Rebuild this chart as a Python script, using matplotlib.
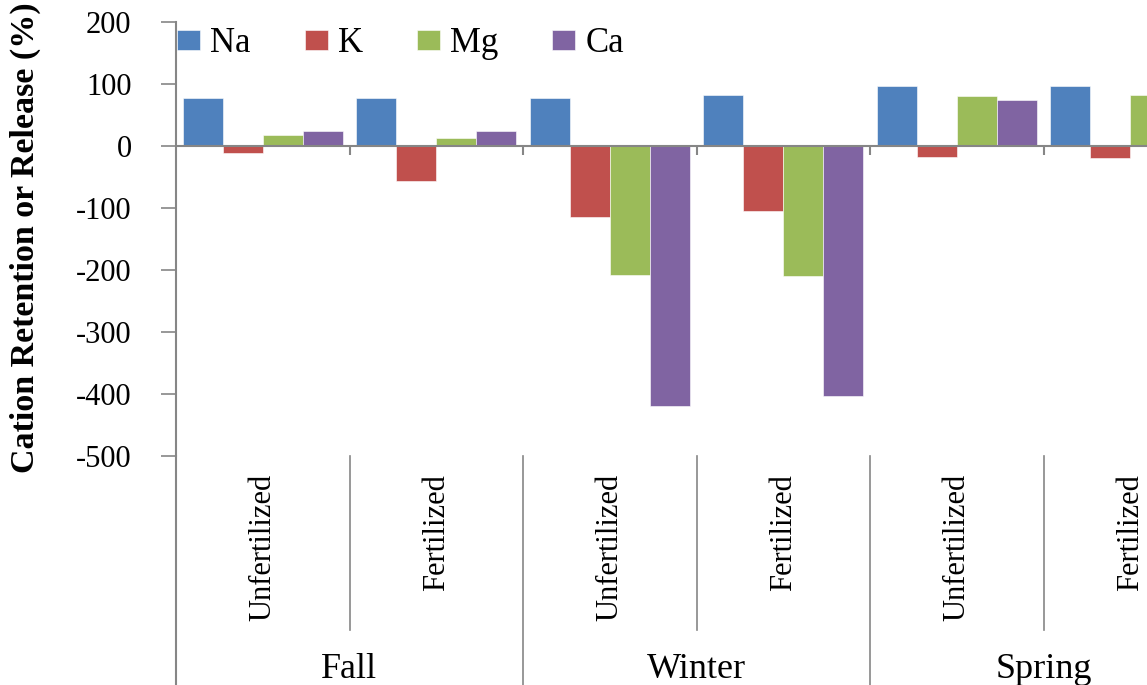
import matplotlib.pyplot as plt
import numpy as np

# donnees
saisons = ["Fall", "Winter", "Spring"]
traitements = ["Unfertilized", "Fertilized"]
cations = ["Na", "K", "Mg", "Ca"]
na = [77, 77, 77, 82, 96, 96]
k = [-12, -56, -115, -105, -17, -20]
mg = [17, 13, -208, -210, 81, 83]
ca = [25, 25, -420, -403, 75, 75]
couleurs = ["#4F81BD", "#C0504D", "#9BBB59", "#8064A2"]

plt.rcParams['font.family'] = ['Liberation Serif', 'DejaVu Serif']
plt.rcParams['axes.unicode_minus'] = False
gris = "#868686"

fig = plt.figure(figsize=(11.47, 6.85), dpi=100)
ax = fig.add_axes([176/1147, 1 - 456/685, 1 - 176/1147, 434/685])

series = [na, k, mg, ca]
x = np.arange(len(saisons) * len(traitements))
width = 0.231
for i in range(len(cations)):
    ax.bar(x + (i - 1.5) * width, series[i], width, color=couleurs[i],
           label=cations[i], edgecolor='white', linewidth=0.4)

ax.set_xlim(-0.5, -0.5 + 971/173.5)
ax.set_ylim(-500, 200)
ax.set_yticks(np.arange(-500, 201, 100))
ax.tick_params(axis='y', direction='out', length=11, width=1.2, color=gris,
               pad=21, labelsize=22)
ax.set_xticks([])
for s in ['top', 'right', 'bottom']:
    ax.spines[s].set_visible(False)
ax.spines['left'].set_color(gris)
ax.spines['left'].set_linewidth(1.5)

# ligne du zero et petits traits entre les groupes
ax.axhline(0, color=gris, lw=1.5, zorder=1)
ax.vlines(x[:-1] + 0.5, -14, 0, color=gris, lw=1.5)

# separateurs sous l'axe
tr = ax.get_xaxis_transform()
ax.plot([-0.5, -0.5], [-0.6, 0], color=gris, lw=1.5, transform=tr, clip_on=False)
for j in range(len(saisons)):
    ax.plot([2*j + 0.5, 2*j + 0.5], [-0.40, -0.0], color=gris, lw=1.2,
            transform=tr, clip_on=False)
    ax.plot([2*j + 1.5, 2*j + 1.5], [-0.6, 0], color=gris, lw=1.2,
            transform=tr, clip_on=False)
    ax.text(2*j + 0.5, -0.5115, saisons[j], transform=tr, ha='center',
            va='baseline', fontsize=26, clip_on=False)
    for t in range(len(traitements)):
        ax.text(2*j + t, -0.041, traitements[t], transform=tr, rotation=90,
                ha='center', va='top', fontsize=22, clip_on=False)

fig.text(25/1147, 1 - 238/685, "Cation Retention or Release (%)", rotation=90,
         ha='center', va='center', fontsize=24.5, fontweight='bold')

ax.legend(loc='center left', bbox_to_anchor=(177/1147, 1 - 44/685),
          bbox_transform=fig.transFigure, ncol=4, frameon=False, fontsize=25,
          borderpad=0, borderaxespad=0, handlelength=0.66, handleheight=0.5,
          handletextpad=0.3, columnspacing=1.55)

fig.savefig("out.png", dpi=100)
